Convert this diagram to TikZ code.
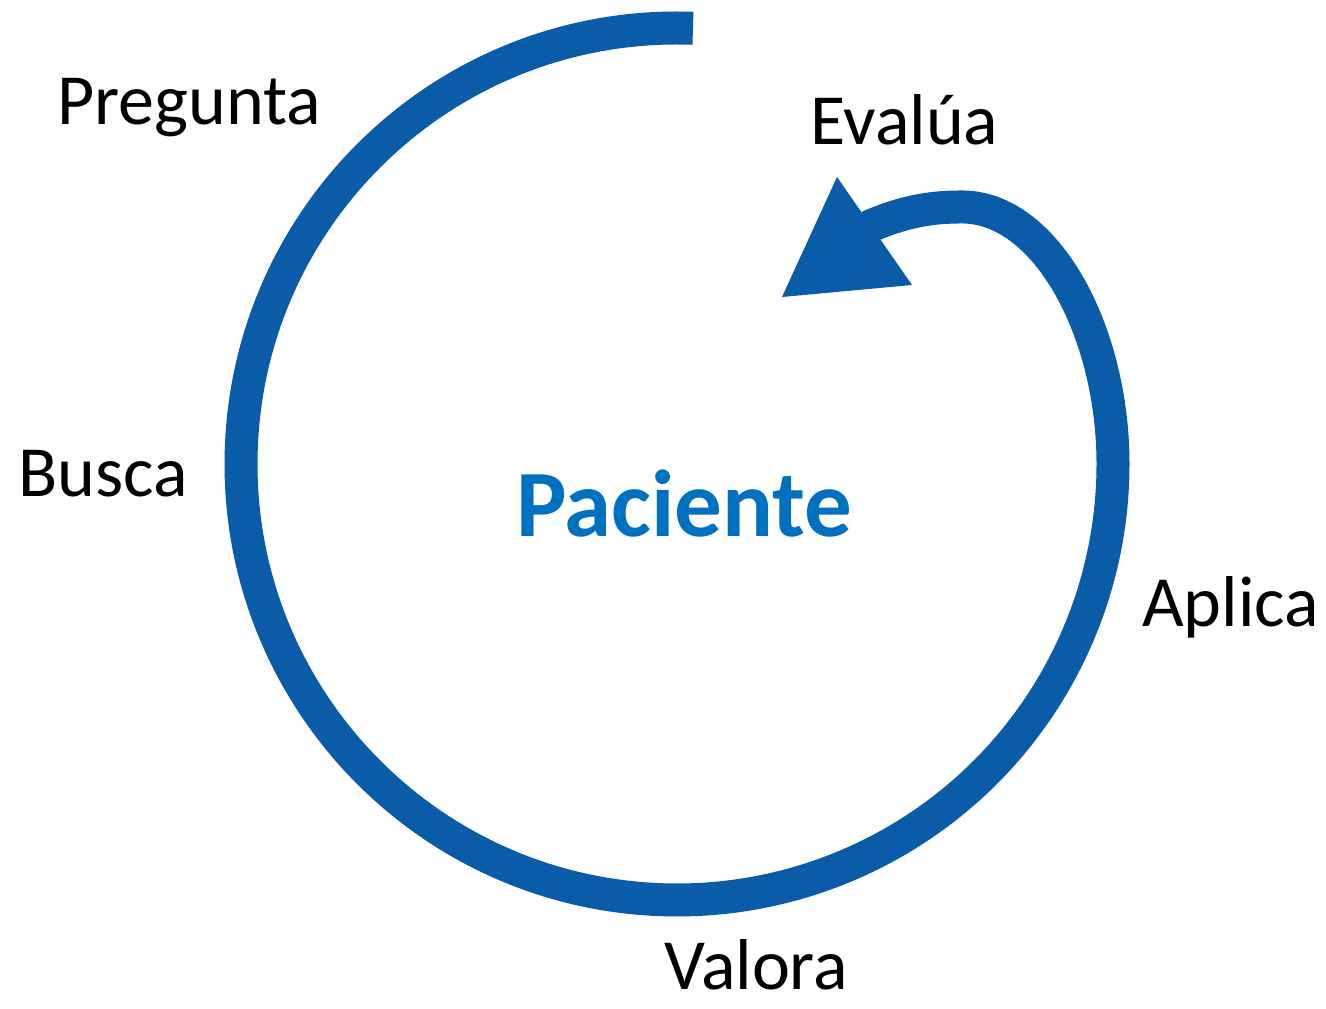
\documentclass[tikz,border=0pt]{standalone}
\usepackage{fontspec}
\setmainfont{Carlito}
\definecolor{spiralblue}{RGB}{10,92,168}
\definecolor{textblue}{RGB}{0,112,192}
\begin{document}
\begin{tikzpicture}[x=1pt,y=1pt,
  lbl/.style={inner sep=0pt, anchor=base west, font=\fontsize{72}{86}\selectfont, text=black},
  spiral/.style={draw=spiralblue, line width=33pt, line cap=butt}]
\path[fill=white, use as bounding box] (0,0) rectangle (1326,1009);
% spiral
\draw[spiral] (677,545) ++(87.9:436) arc[start angle=87.9, end angle=360, radius=436]
  .. controls (1113,679) and (1045,804) .. (960,802)
  .. controls (925,802) and (898,795) .. (868,782);
\fill[spiralblue] (782,712) -- (837,832) -- (912,724) -- cycle;
% labels
\node[lbl] (pregunta) at (57,884) {Pregunta};
\node[lbl] (evalua) at (810,864) {Evalúa};
\node[lbl] (busca) at (18,512) {Busca};
\node[lbl] (aplica) at (1142,382) {Aplica};
\node[lbl] (valora) at (664,19) {Valora};
\node[inner sep=0pt, anchor=base west, font=\fontsize{95}{110}\selectfont\bfseries, text=textblue] (paciente) at (516,472) {Paciente};
\end{tikzpicture}
\end{document}
